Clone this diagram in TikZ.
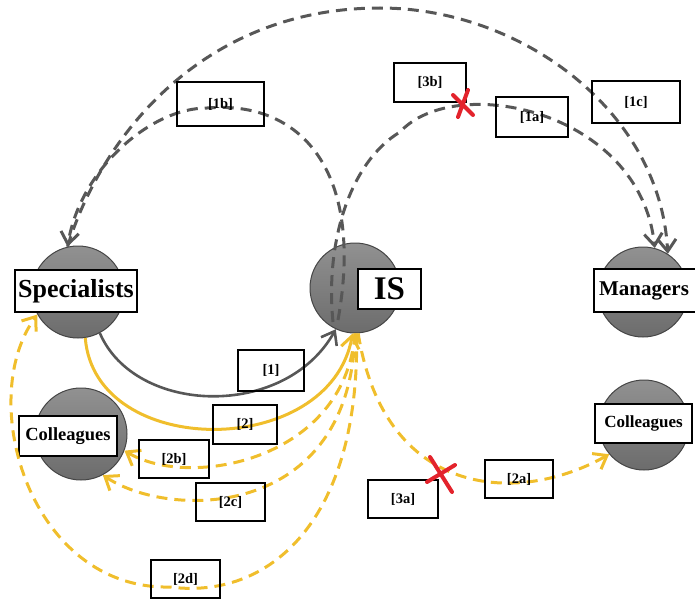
\documentclass[tikz,border=0pt]{standalone}
\usepackage{fontspec}
\setmainfont{Liberation Serif}
\usetikzlibrary{arrows.meta}
\definecolor{lg}{HTML}{575757}
\definecolor{ly}{HTML}{F0BE2C}
\definecolor{lr}{HTML}{E3232C}
\definecolor{ctop}{HTML}{919191}
\definecolor{cbot}{HTML}{6C6C6C}
\definecolor{cbd}{HTML}{454545}
\begin{document}
\begin{tikzpicture}[x=1pt,y=-1pt,
  actor/.style={circle, draw=cbd, line width=1pt, top color=ctop, bottom color=cbot, minimum size=#1, inner sep=0pt},
  tag/.style={draw=black, fill=white, line width=1.6pt, inner sep=0pt, font=\bfseries},
  lbl/.style={draw=black, line width=1.6pt, inner sep=0pt, minimum height=39pt, font=\bfseries\fontsize{14.5}{16}\selectfont},
  tipv/.style={-{Straight Barb[length=12pt,width=18pt]}},
  gdash/.style={draw=lg, line width=3pt, dash pattern=on 11pt off 7pt},
  gsolid/.style={draw=lg, line width=2.6pt},
  ydash/.style={draw=ly, line width=3pt, dash pattern=on 11pt off 7pt},
  ysolid/.style={draw=ly, line width=3pt},
  redx/.style={draw=lr, line width=4pt, line cap=round}
]
\useasboundingbox (0,0) rectangle (695,602);

% actors (circles)
\node[actor=92pt] (spec) at (78,292) {};
\node[actor=90pt] (is) at (355,288) {};
\node[actor=90pt] (man) at (643,292) {};
\node[actor=92pt] (colL) at (81,434) {};
\node[actor=90pt] (colR) at (644,425) {};

% actor labels
\node[tag, minimum width=122pt, minimum height=42pt, font=\bfseries\fontsize{26}{28}\selectfont] (specT) at (76,291) {Specialists};
\node[tag, minimum width=63pt, minimum height=40pt, font=\bfseries\fontsize{33}{35}\selectfont] (isT) at (389.5,289) {IS};
\node[tag, minimum width=104pt, minimum height=43pt, font=\bfseries\fontsize{21}{23}\selectfont] (manT) at (646,290.5) {\hspace*{-4pt}Managers};
\node[tag, minimum width=98pt, minimum height=40pt, font=\bfseries\fontsize{18.5}{20}\selectfont] (colLT) at (68,436) {Colleagues};
\node[tag, minimum width=97pt, minimum height=39pt, font=\bfseries\fontsize{17}{19}\selectfont] (colRT) at (643.5,423.5) {Colleagues};

% free ends and way points
\coordinate (a1s) at (333,322);
\coordinate (b1s) at (338,320);
\coordinate (top1c) at (380,8);
\coordinate (mid1a) at (400,132);
\coordinate (mid1b) at (207,108);
\coordinate (mid2d) at (170,587);

% gray connectors
\draw[gdash, tipv] (spec.103) .. controls (100,140) and (200,8) .. (top1c)
                         .. controls (520,8) and (660,110) .. (man.57);
\draw[gdash, tipv] (a1s) .. controls (325,242) and (350,162) .. (mid1a)
                         .. controls (455,72) and (640,110) .. (man.75);
\draw[gdash, tipv] (b1s) .. controls (365,170) and (300,100) .. (mid1b)
                         .. controls (150,108) and (80,170) .. (spec.103);
\draw[gsolid, tipv] (spec.-62) .. controls (135,415) and (285,420) .. (is.-115);

% yellow connectors
\draw[ysolid, tipv] (spec.-81) .. controls (95,460) and (330,460) .. (is.-93);
\draw[ydash, tipv] (is.-90) .. controls (345,460) and (190,490) .. (colL.-21);
\draw[ydash, tipv] (is.-90) .. controls (350,520) and (170,520) .. (colL.-62);
\draw[ydash, tipv] (is.-88) .. controls (360,520) and (270,600) .. (mid2d)
                          .. controls (30,590) and (-25,400) .. (spec.-151);
\draw[ydash, tipv] (is.-86) .. controls (385,500) and (520,505) .. (colR.-140);

% label boxes
\node[lbl, minimum width=87pt, minimum height=44pt] (l1b) at (220.5,104) {[1b]};
\node[lbl, minimum width=72pt] (l3b) at (430,82.5) {[3b]};
\node[lbl, minimum width=72pt, minimum height=40pt] (l1a) at (532,117) {[1a]};
\node[lbl, minimum width=88pt, minimum height=42pt] (l1c) at (636,102) {[1c]};
\node[lbl, minimum width=66pt, minimum height=41pt] (l1) at (271,370.5) {[1]};
\node[lbl, minimum width=64pt] (l2) at (245,424.5) {[2]};
\node[lbl, minimum width=70pt, minimum height=38pt] (l2b) at (174,459) {[2b]};
\node[lbl, minimum width=69pt, minimum height=38pt] (l2c) at (230.5,502) {[2c]};
\node[lbl, minimum width=69pt, minimum height=38pt] (l2d) at (185.5,579) {[2d]};
\node[lbl, minimum width=70pt, minimum height=38pt] (l3a) at (403,499) {[3a]};
\node[lbl, minimum width=68pt, minimum height=38pt] (l2a) at (519,479) {[2a]};

% red crosses
\coordinate (x1) at (463,105);
\coordinate (x2) at (441,474);
\draw[redx, shift={(x1)}] (-10,-10) -- (10,10) (5,-15) -- (-5,12);
\draw[redx, shift={(x2)}] (-11,-17) -- (11,18) (-14,8) -- (14,-9);
\end{tikzpicture}
\end{document}
